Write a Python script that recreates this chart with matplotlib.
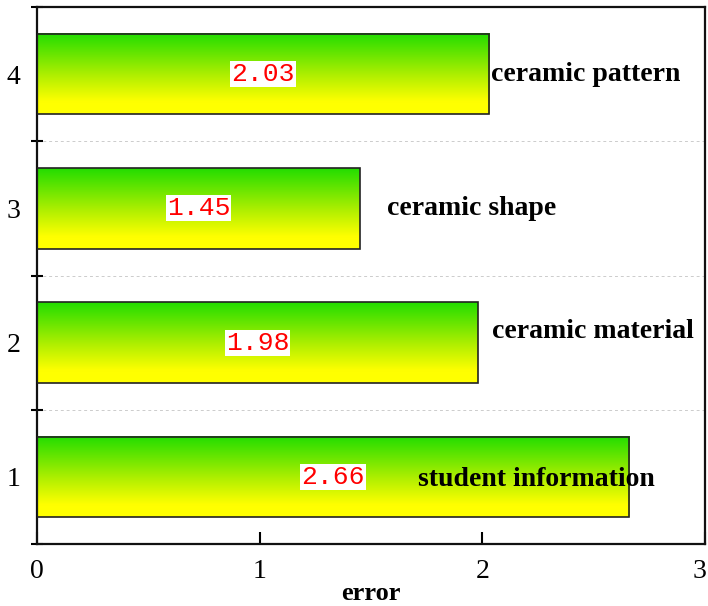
import numpy as np
import matplotlib.pyplot as plt
import matplotlib.transforms as mtransforms
from matplotlib.colors import LinearSegmentedColormap


# data
positions = [1, 2, 3, 4]
errors = [2.66, 1.98, 1.45, 2.03]
names = ["student information", "ceramic material", "ceramic shape", "ceramic pattern"]

# where each name sits (data coords), placed by hand
name_xy = [(1.71, 0.98), (2.045, 2.08), (1.57, 3.0), (2.04, 4.0)]

BAR_H = 0.6
serif = "Liberation Serif"

# green at the top of each bar fading to yellow at the bottom
grad_cmap = LinearSegmentedColormap.from_list(
    "gy", [(0.0, "#22dd00"), (0.5, "#aaee00"), (0.85, "#ffff00"), (1.0, "#ffff00")]
)
grad = np.linspace(0, 1, 256).reshape(-1, 1)

fig = plt.figure(figsize=(7.08, 6.06), dpi=100)
ax = fig.add_axes([0.0523, 0.1023, 0.9435, 0.886])

for y, v in zip(positions, errors):
    ax.imshow(grad, cmap=grad_cmap, aspect="auto", origin="upper",
              extent=[0, v, y - BAR_H / 2, y + BAR_H / 2], zorder=2)
ax.barh(positions, errors, height=BAR_H, color="none", edgecolor="#222222",
        linewidth=1.2, zorder=3)

# value labels in the middle of each bar
for y, v in zip(positions, errors):
    ax.text(v / 2, y, f"{v:.2f}", ha="center", va="center", color="red",
            fontsize=19, family="Liberation Mono", zorder=5,
            bbox=dict(facecolor="white", edgecolor="none", pad=0.8))

# category names
for (x, y), name in zip(name_xy, names):
    ax.text(x, y, name, ha="left", va="center", fontsize=20,
            family=serif, fontweight="bold", zorder=5)

ax.set_xlim(0, 3)
ax.set_ylim(0.5, 4.5)

for yy in [1.5, 2.5, 3.5]:
    ax.axhline(yy, color="#cccccc", lw=0.7, ls=(0, (3, 3)), zorder=1)

ax.set_xticks([0, 1, 2, 3])
ax.set_yticks(positions)
ax.set_yticks([0.5, 1.5, 2.5, 3.5, 4.5], minor=True)
ax.tick_params(axis="x", direction="in", length=9, width=1.5, pad=11,
               labelsize=20, top=False)
ax.tick_params(axis="y", which="major", length=0, pad=12, labelsize=20)
ax.tick_params(axis="y", which="minor", direction="inout", length=8, width=1.5)
for lab in ax.get_xticklabels() + ax.get_yticklabels():
    lab.set_family(serif)

# keep the last x label inside the canvas
last = ax.get_xticklabels()[-1]
last.set_transform(last.get_transform() +
                   mtransforms.ScaledTranslation(-6 / 100, 0, fig.dpi_scale_trans))

for s in ax.spines.values():
    s.set_linewidth(1.6)
    s.set_color("#111111")

ax.set_xlabel("error", fontsize=19, family=serif, fontweight="bold", labelpad=-2)

fig.savefig("out.png", dpi=100)
